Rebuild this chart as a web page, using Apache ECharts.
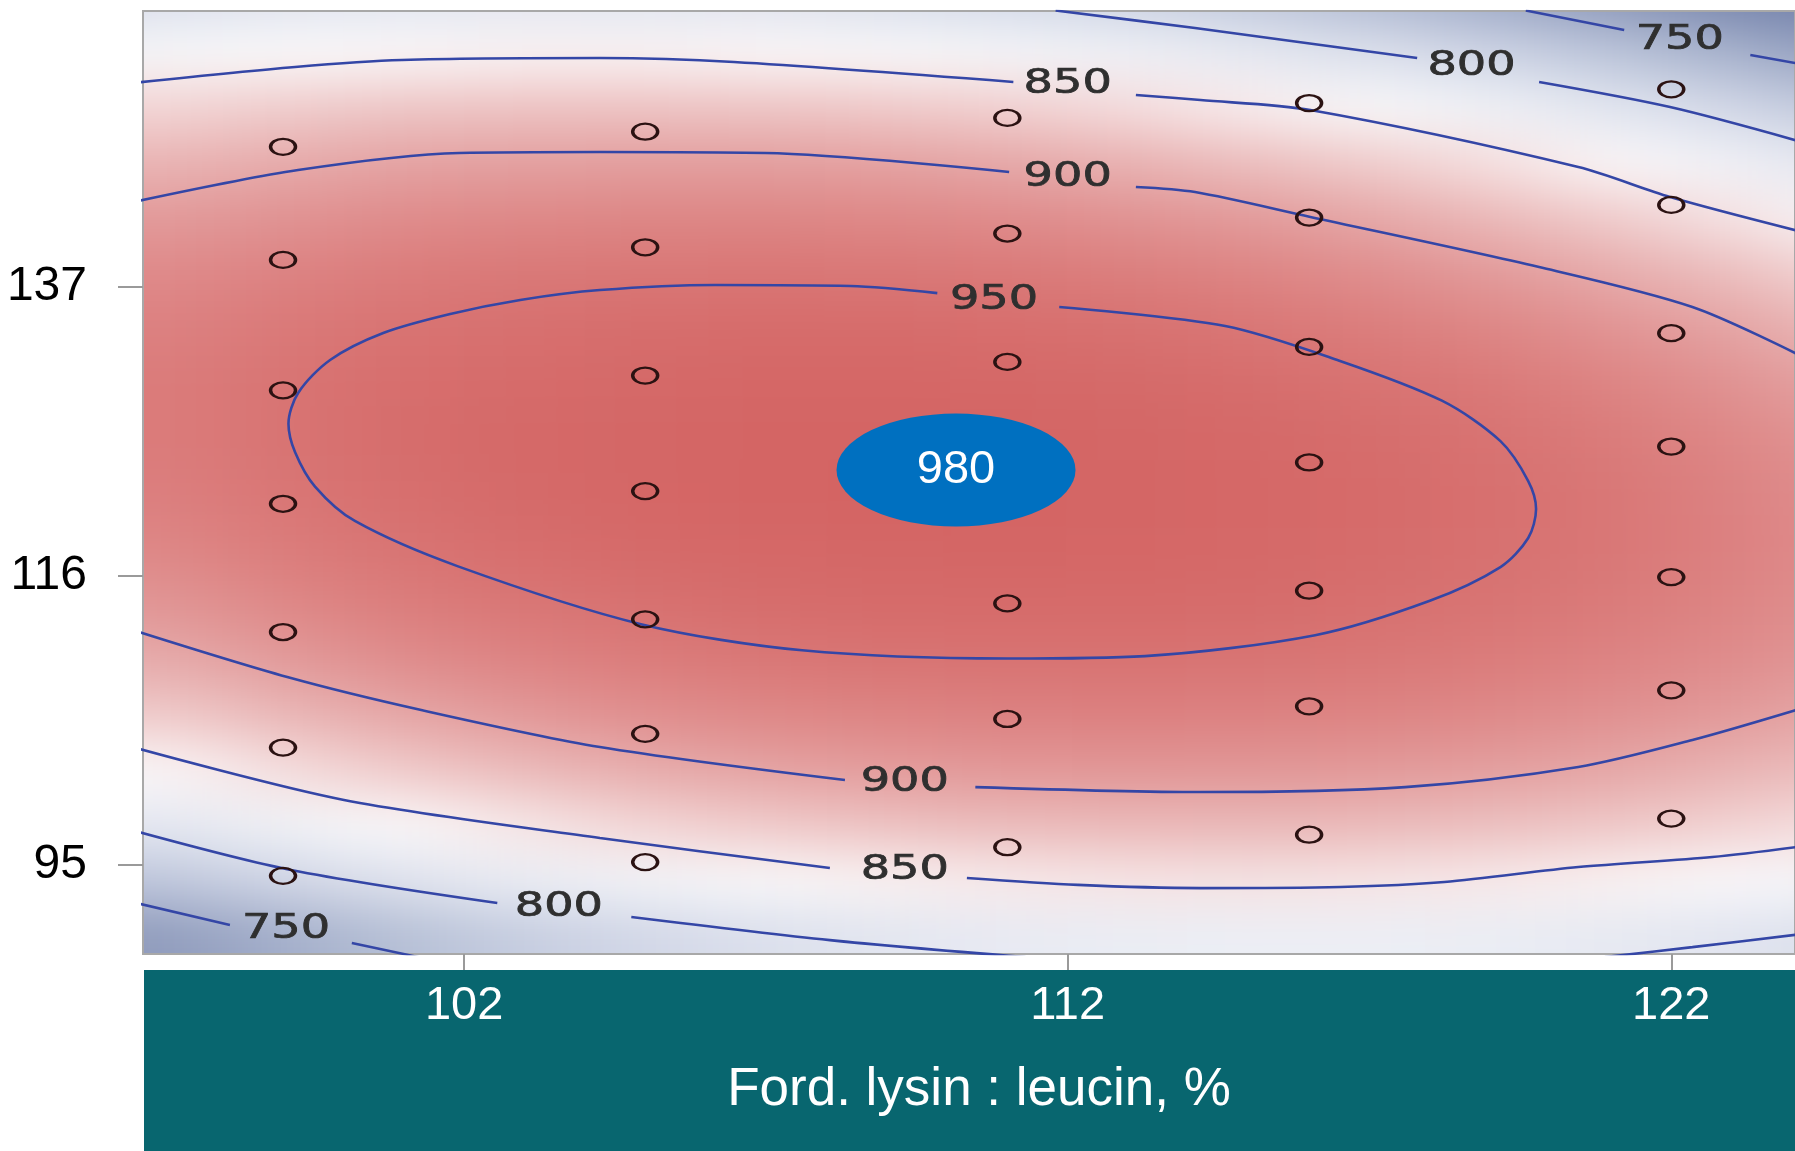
<!DOCTYPE html>
<html>
<head>
<meta charset="utf-8">
<script src="https://cdn.jsdelivr.net/npm/echarts@6/dist/echarts.min.js"></script>
<style>
html,body{margin:0;padding:0;background:#ffffff;width:1795px;height:1151px;overflow:hidden}
#bgclip{position:absolute;overflow:hidden;z-index:0}
#bg{position:absolute;filter:url(#soft)}
#main{position:absolute;left:0;top:0;width:1795px;height:1151px;z-index:1}
</style>
</head>
<body>
<svg width="0" height="0" style="position:absolute">
  <defs>
    <filter id="soft" x="-10%" y="-10%" width="120%" height="120%" color-interpolation-filters="sRGB">
      <feGaussianBlur stdDeviation="55 24"/>
    </filter>
  </defs>
</svg>
<div id="bgclip"><div id="bg"></div></div>
<div id="main"></div>
<script>
// ---------------- axes ----------------
const xTicks = [102, 112, 122];
const yTicks = [95, 116, 137];
const xTitle = 'Ford. lysin : leucin, %';
const xRange = [96.68, 124.05];
const yRange = [88.53, 157.06];

// ---------------- design points (open circles) ----------------
const designColumnsX = [99, 105, 111, 116, 122];
const designColumnsY = [
  [147.19, 138.97, 129.49, 121.25, 111.93, 103.53, 94.21],
  [148.29, 139.89, 130.57, 122.17, 112.85, 104.53, 95.21],
  [149.29, 140.89, 131.56, 123.33, 114.01, 105.61, 96.29],
  [150.37, 142.05, 132.65, 124.25, 114.93, 106.53, 97.20],
  [151.37, 142.97, 133.65, 125.41, 115.92, 107.69, 98.37]
];

// ---------------- optimum marker ----------------
const optimum = [[110.15, 123.7, 980]];

// ---------------- contour lines (segments, gaps at labels) ----------------
const c750Upper = [
  [[119.59, 157.1], [121.22, 155.68]],
  [[123.31, 153.86], [124.1, 153.24]]
];
const c800Upper = [
  [[111.8, 157.1], [114.11, 155.82], [117.79, 153.64]],
  [[119.81, 151.90], [121.98, 150.08], [124.1, 147.62]]
];
const c850Upper = [
  [[96.6, 151.87], [99.20, 152.99], [100.97, 153.50], [104.25, 153.64], [106.47, 153.35], [111.10, 151.90]],
  [[113.13, 150.95], [114.20, 150.59], [116.02, 149.86], [120.46, 145.72], [121.98, 143.54], [124.1, 141.08]]
];
const c900Upper = [
  [[96.6, 143.25], [99.25, 145.50], [101.92, 146.74], [104.25, 146.81], [106.99, 146.74], [111.03, 145.36]],
  [[113.13, 144.27], [114.11, 143.90], [116.02, 142.09], [119.81, 138.45], [122.35, 135.55], [124.1, 132.1]]
];
const c950 = [
  [[111.86, 135.55], [114.61, 134.17], [116.5, 131.65], [118.2, 128.74], [119.17, 125.8], [119.63, 122.9],
   [119.76, 120.87], [119.63, 118.76], [119.17, 116.65], [118.0, 114.2], [116.1, 111.7], [113.28, 110.18],
   [111.0, 110.0], [107.6, 110.6], [104.93, 112.5], [101.9, 116.7], [100.19, 120.0], [99.53, 122.5],
   [99.2, 125.0], [99.09, 127.07], [99.25, 129.3], [99.78, 131.7], [100.66, 133.66], [101.77, 135.04],
   [102.93, 136.06], [104.25, 136.78], [106.16, 137.15], [108.4, 137.07], [109.84, 136.56]]
];
const c900Lower = [
  [[96.6, 111.95], [99.07, 108.66], [101.29, 106.26], [104.25, 103.57], [108.31, 101.17]],
  [[110.47, 100.66], [114.20, 100.30], [117.59, 100.66], [120.46, 102.12], [122.35, 104.08], [124.1, 106.3]]
];
const c850Lower = [
  [[96.6, 103.45], [100.01, 99.72], [104.25, 96.96], [108.06, 94.78]],
  [[110.33, 94.05], [112.17, 93.55], [114.20, 93.32], [116.52, 93.40], [118.24, 93.76], [120.46, 94.85], [122.68, 95.58], [124.1, 96.32]]
];
const c800Lower = [
  [[96.6, 97.4], [99.13, 94.63], [102.55, 92.23]],
  [[104.77, 91.22], [108.06, 89.54], [111.3, 88.3]],
  [[120.9, 88.3], [122.35, 89.03], [124.1, 89.95]]
];
const c750Lower = [
  [[96.6, 92.2], [98.12, 90.63]],
  [[100.14, 89.33], [101.25, 88.3]]
];
const contourLabels = [
  [122.14, 154.94, 750], [118.69, 153.03, 800], [112.0, 151.7, 850], [112.0, 144.97, 900],
  [110.78, 136.06, 950], [109.30, 101.03, 900], [109.30, 94.63, 850], [103.57, 91.88, 800], [99.05, 90.30, 750]
];

// ---------------- response surface ----------------
const surfaceX = [97, 99, 101, 103, 105, 107, 109, 111, 113, 115, 117, 119, 121, 123, 125];
const surfaceY = [90, 94, 98, 102, 106, 110, 114, 118, 122, 126, 130, 134, 138, 142, 146, 150, 154, 158];
const surfaceZ = [
  [728, 746, 763, 777, 789, 799, 807, 813, 816, 818, 818, 816, 811, 805, 797],
  [771, 788, 804, 817, 828, 837, 845, 850, 853, 854, 853, 850, 845, 838, 828],
  [809, 825, 840, 852, 863, 871, 878, 882, 884, 885, 883, 879, 873, 865, 855],
  [841, 857, 871, 883, 893, 900, 906, 910, 911, 911, 908, 904, 897, 888, 878],
  [870, 885, 898, 909, 918, 925, 929, 932, 933, 932, 929, 923, 916, 907, 895],
  [893, 907, 920, 930, 938, 944, 948, 950, 950, 948, 944, 938, 930, 920, 908],
  [911, 925, 937, 946, 953, 959, 962, 963, 963, 960, 955, 948, 939, 928, 915],
  [925, 938, 949, 957, 964, 969, 971, 972, 970, 967, 961, 953, 944, 932, 918],
  [934, 946, 956, 964, 970, 974, 976, 975, 973, 969, 962, 954, 944, 931, 916],
  [938, 949, 959, 966, 971, 974, 975, 974, 971, 966, 959, 950, 939, 925, 910],
  [938, 948, 957, 963, 967, 970, 970, 968, 964, 958, 950, 941, 929, 915, 898],
  [932, 942, 950, 955, 959, 960, 960, 957, 953, 946, 937, 927, 914, 899, 882],
  [922, 931, 938, 943, 945, 946, 945, 942, 936, 929, 919, 908, 894, 879, 861],
  [907, 915, 921, 925, 927, 927, 925, 921, 915, 907, 897, 884, 870, 854, 835],
  [887, 894, 900, 903, 904, 904, 901, 896, 889, 880, 869, 856, 841, 824, 805],
  [862, 869, 874, 876, 876, 875, 871, 866, 858, 848, 837, 823, 807, 789, 769],
  [833, 839, 842, 844, 844, 842, 837, 831, 823, 812, 800, 785, 768, 750, 729],
  [798, 804, 807, 808, 807, 804, 798, 791, 782, 771, 758, 742, 725, 706, 684]
];
const surfaceColors = ['#6f7ea8', '#8693b6', '#9ca8c5', '#b3bdd4', '#c9d0e2', '#dce0ec', '#eef0f6', '#fbfafb',
  '#f3d8d8', '#ebbdbd', '#e4a2a2', '#df8c8c', '#da7a79', '#d66c6b', '#d36261', '#d05a59'];

// ---------------- main chart ----------------
const FONT = '"Liberation Sans", Arial, sans-serif';
const main = echarts.init(document.getElementById('main'), null, { renderer: 'canvas', width: 1795, height: 1151 });

const series = [];
[c750Upper, c800Upper, c850Upper, c900Upper, c950, c900Lower, c850Lower, c800Lower, c750Lower].forEach(set => {
  set.forEach(seg => {
    series.push({
      type: 'line', data: seg, symbol: 'none', showSymbol: false, smooth: 0.3,
      lineStyle: { color: '#3446a6', width: 2.6 }, silent: true, z: 3
    });
  });
});
series.push({
  type: 'custom',
  silent: true,
  z: 4,
  data: contourLabels,
  renderItem: function (params, api) {
    const p = api.coord([api.value(0), api.value(1)]);
    return {
      type: 'text', x: p[0], y: p[1], scaleX: 1.4, scaleY: 1,
      style: {
        text: String(api.value(2)), fill: '#2f2f2f', stroke: '#2f2f2f', lineWidth: 0.7,
        font: '33px "DejaVu Sans", Verdana, sans-serif',
        align: 'center', verticalAlign: 'middle'
      }
    };
  }
});
const designData = [];
designColumnsX.forEach((x, i) => designColumnsY[i].forEach(y => designData.push([x, y])));
series.push({
  type: 'scatter', data: designData, symbol: 'circle', symbolSize: [25, 16], silent: true, z: 5,
  itemStyle: { color: 'rgba(0,0,0,0)', borderColor: '#2b1212', borderWidth: 2.8, opacity: 1 }
});
series.push({
  type: 'scatter', data: optimum, symbol: 'circle', symbolSize: [239, 113], silent: true, z: 6,
  itemStyle: { color: '#0070c0', opacity: 1 },
  label: { show: true, position: 'inside', formatter: p => String(p.value[2]), color: '#ffffff', fontSize: 47, fontFamily: FONT }
});

main.setOption({
  animation: false,
  backgroundColor: 'transparent',
  grid: { left: 143, top: 11, right: 0, bottom: 197, show: true, borderColor: '#a8a8a8', borderWidth: 2, backgroundColor: 'transparent' },
  graphic: [{
    type: 'rect', z: 1, silent: true,
    shape: { x: 144, y: 970, width: 1651, height: 181 },
    style: { fill: '#08666f' }
  }],
  xAxis: {
    type: 'value', min: xRange[0], max: xRange[1], z: 10,
    axisLine: { show: false }, splitLine: { show: false },
    axisTick: { show: true, customValues: xTicks, length: 16, lineStyle: { color: '#9a9a9a', width: 2 } },
    axisLabel: { customValues: xTicks, color: '#ffffff', fontSize: 47, fontFamily: FONT, margin: 29 },
    name: xTitle, nameLocation: 'middle', nameGap: 110,
    nameTextStyle: { color: '#ffffff', fontSize: 53, fontFamily: FONT, padding: [0, 0, 0, 20] }
  },
  yAxis: {
    type: 'value', min: yRange[0], max: yRange[1], z: 10,
    axisLine: { show: false }, splitLine: { show: false },
    axisTick: { show: true, customValues: yTicks, length: 25, lineStyle: { color: '#9a9a9a', width: 2 } },
    axisLabel: { customValues: yTicks, color: '#000000', fontSize: 48, fontFamily: FONT, margin: 56 }
  },
  series: series
});

// ---------------- background surface (heatmap under the plot, softened) ----------------
const px = v => main.convertToPixel({ xAxisIndex: 0 }, v);
const py = v => main.convertToPixel({ yAxisIndex: 0 }, v);
const gx0 = px(xRange[0]), gx1 = px(xRange[1]);
const gy0 = py(yRange[1]), gy1 = py(yRange[0]);
const clip = document.getElementById('bgclip');
clip.style.left = gx0 + 'px'; clip.style.top = gy0 + 'px';
clip.style.width = (gx1 - gx0) + 'px'; clip.style.height = (gy1 - gy0) + 'px';

const PAD = 2;
const dx = surfaceX[1] - surfaceX[0];
const dy = surfaceY[1] - surfaceY[0];
const nx = surfaceX.length, ny = surfaceY.length;
const xL = surfaceX[0] - dx / 2 - PAD * dx, xR = surfaceX[nx - 1] + dx / 2 + PAD * dx;
const yB = surfaceY[0] - dy / 2 - PAD * dy, yT = surfaceY[ny - 1] + dy / 2 + PAD * dy;
const bgEl = document.getElementById('bg');
const bgW = px(xR) - px(xL), bgH = py(yB) - py(yT);
bgEl.style.left = (px(xL) - gx0) + 'px';
bgEl.style.top = (py(yT) - gy0) + 'px';
bgEl.style.width = bgW + 'px';
bgEl.style.height = bgH + 'px';

const xCats = [], yCats = [];
for (let i = 0; i < nx + 2 * PAD; i++) xCats.push('c' + i);
for (let j = 0; j < ny + 2 * PAD; j++) yCats.push('r' + j);
const clampI = (v, n) => Math.max(0, Math.min(n - 1, v));
const heat = [];
for (let j = 0; j < ny + 2 * PAD; j++) {
  for (let i = 0; i < nx + 2 * PAD; i++) {
    heat.push([i, j, surfaceZ[clampI(j - PAD, ny)][clampI(i - PAD, nx)]]);
  }
}
const bg = echarts.init(bgEl, null, { renderer: 'canvas', width: bgW, height: bgH });
bg.setOption({
  animation: false,
  grid: { left: 0, right: 0, top: 0, bottom: 0 },
  xAxis: { type: 'category', data: xCats, show: false },
  yAxis: { type: 'category', data: yCats, show: false },
  visualMap: { show: false, min: 700, max: 1000, dimension: 2, inRange: { color: surfaceColors } },
  series: [{ type: 'heatmap', data: heat, progressive: 0, silent: true, itemStyle: { borderWidth: 0 } }]
});
</script>
</body>
</html>
